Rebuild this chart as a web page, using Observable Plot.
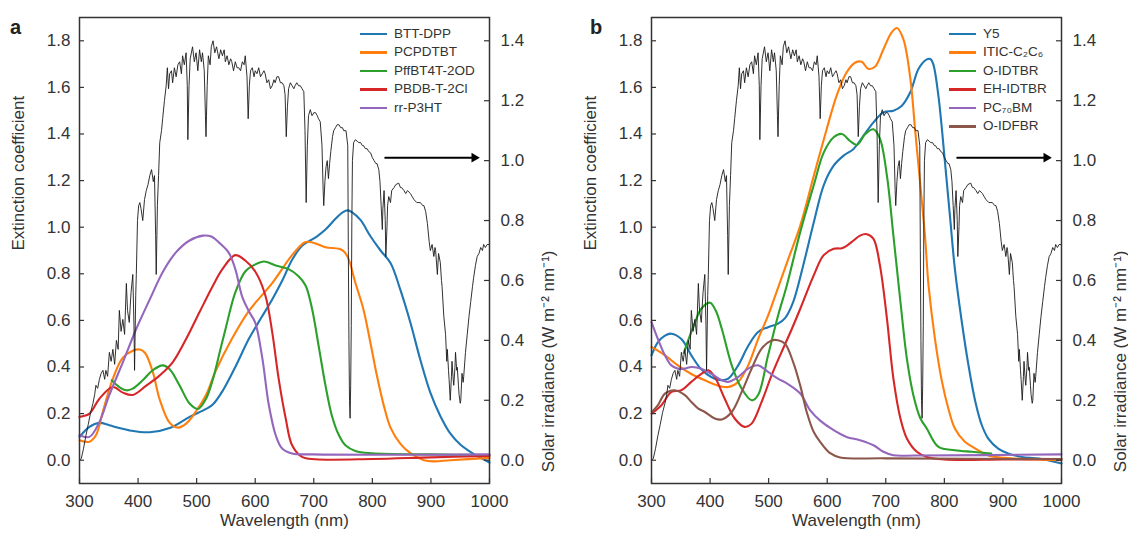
<!DOCTYPE html>
<html><head><meta charset="utf-8">
<script src="https://cdn.jsdelivr.net/npm/d3@7"></script>
<script src="https://cdn.jsdelivr.net/npm/@observablehq/plot@0.6"></script>
<style>
body{margin:0;background:#fff;}
#wrap{position:relative;width:1128px;height:536px;font-family:"Liberation Sans",Arial,Helvetica,sans-serif;color:#333;}
#wrap svg{position:absolute;top:0;}
.lg{position:absolute;font-size:13.5px;line-height:18.5px;height:18.5px;white-space:nowrap;color:#333;}
.sw{position:absolute;height:2.6px;}
.pl{position:absolute;font-weight:bold;font-size:20px;line-height:20px;color:#222;}
</style></head><body><div id="wrap"></div>
<script>
// ---------- tick labels ----------
const xTicks = [300, 400, 500, 600, 700, 800, 900, 1000];
const yTicks = [0, 0.2, 0.4, 0.6, 0.8, 1.0, 1.2, 1.4, 1.6, 1.8];
const irrTicks = [0, 0.2, 0.4, 0.6, 0.8, 1.0, 1.2, 1.4];
const palette = ["#1f77b4", "#ff7f0e", "#2ca02c", "#d62728", "#9467bd", "#8c564b"];

// ---------- panel a: donors (extinction coefficient) ----------
const namesA = ["BTT-DPP", "PCPDTBT", "PffBT4T-2OD", "PBDB-T-2Cl", "rr-P3HT"];
const BTT_DPP = [[300,0.10],[317,0.143],[334,0.16],[351,0.15],[368,0.138],[385,0.128],[420,0.12],[454,0.138],[488,0.186],[516,0.22],[528,0.24],[545,0.30],[566,0.40],[589,0.52],[610,0.61],[629,0.69],[646,0.77],[663,0.86],[680,0.92],[692,0.94],[705,0.96],[720,0.99],[737,1.036],[750,1.065],[758,1.072],[765,1.065],[780,1.03],[797,0.96],[814,0.90],[831,0.846],[848,0.73],[865,0.59],[882,0.43],[899,0.29],[916,0.19],[933,0.115],[951,0.065],[968,0.035],[985,0.01],[1000,-0.01]];
const PCPDTBT = [[300,0.086],[317,0.079],[328,0.107],[340,0.21],[357,0.35],[374,0.44],[391,0.47],[403,0.475],[412,0.46],[425,0.38],[437,0.26],[454,0.16],[468,0.14],[482,0.157],[499,0.21],[516,0.28],[532,0.38],[560,0.52],[589,0.64],[629,0.76],[663,0.88],[686,0.936],[703,0.93],[720,0.914],[743,0.907],[752,0.895],[760,0.86],[770,0.77],[785,0.645],[797,0.50],[808,0.36],[820,0.23],[831,0.14],[848,0.07],[865,0.03],[888,0.0],[905,-0.005],[933,0.0],[1000,0.01]];
const PffBT4T_2OD = [[355,0.343],[368,0.314],[380,0.30],[391,0.307],[408,0.343],[425,0.386],[442,0.407],[454,0.39],[471,0.32],[488,0.243],[502,0.22],[516,0.264],[528,0.35],[540,0.47],[549,0.56],[566,0.72],[583,0.81],[600,0.84],[615,0.853],[635,0.836],[657,0.82],[674,0.79],[686,0.75],[697,0.65],[709,0.48],[720,0.32],[731,0.19],[743,0.107],[754,0.064],[771,0.04],[800,0.03],[900,0.025],[1000,0.022]];
const PBDB_T_2Cl = [[300,0.186],[317,0.20],[334,0.264],[357,0.314],[374,0.29],[391,0.28],[414,0.32],[437,0.364],[459,0.42],[482,0.52],[505,0.636],[528,0.75],[544,0.82],[566,0.88],[583,0.857],[600,0.81],[617,0.71],[629,0.55],[640,0.35],[652,0.18],[663,0.064],[680,0.014],[703,0.004],[800,0.005],[900,0.012],[1000,0.018]];
const rr_P3HT = [[300,0.107],[317,0.10],[334,0.164],[351,0.28],[374,0.42],[397,0.564],[420,0.69],[442,0.807],[465,0.893],[488,0.943],[511,0.964],[525,0.96],[540,0.93],[555,0.89],[566,0.82],[578,0.70],[589,0.64],[600,0.59],[612,0.44],[623,0.24],[635,0.107],[646,0.05],[663,0.029],[700,0.025],[1000,0.025]];

// ---------- panel b: acceptors ----------
const namesB = ["Y5", "ITIC-C\u2082C\u2086", "O-IDTBR", "EH-IDTBR", "PC\u2087\u2080BM", "O-IDFBR"];
const Y5 = [[300,0.45],[311,0.507],[323,0.535],[334,0.543],[351,0.52],[368,0.45],[385,0.39],[402,0.357],[420,0.343],[431,0.35],[448,0.407],[465,0.49],[482,0.55],[499,0.571],[516,0.586],[528,0.61],[542,0.68],[559,0.836],[577,1.02],[594,1.18],[611,1.264],[628,1.307],[645,1.336],[662,1.393],[679,1.45],[696,1.493],[713,1.50],[727,1.52],[742,1.58],[756,1.68],[770,1.72],[776,1.722],[781,1.70],[790,1.56],[801,1.28],[810,1.036],[818,0.82],[830,0.59],[841,0.41],[853,0.25],[864,0.15],[875,0.093],[892,0.05],[909,0.029],[932,0.014],[961,0.007],[1000,-0.014]];
const ITIC_C2C6 = [[300,0.486],[323,0.45],[345,0.407],[368,0.37],[391,0.343],[414,0.32],[431,0.314],[448,0.336],[465,0.407],[482,0.52],[499,0.62],[516,0.74],[533,0.86],[554,1.007],[577,1.22],[599,1.42],[616,1.564],[633,1.664],[648,1.707],[659,1.71],[670,1.68],[682,1.69],[696,1.764],[710,1.836],[719,1.855],[730,1.807],[742,1.636],[750,1.42],[759,1.18],[767,0.96],[773,0.75],[784,0.52],[796,0.336],[807,0.22],[818,0.136],[835,0.079],[853,0.05],[875,0.02],[904,0.01],[1000,0.0]];
const O_IDTBR = [[355,0.46],[374,0.59],[385,0.65],[400,0.676],[410,0.64],[420,0.564],[437,0.407],[454,0.307],[471,0.257],[482,0.28],[499,0.45],[516,0.62],[531,0.75],[554,0.98],[577,1.18],[594,1.32],[611,1.386],[625,1.40],[639,1.37],[651,1.353],[665,1.40],[679,1.42],[690,1.38],[702,1.22],[713,0.964],[725,0.68],[736,0.436],[747,0.28],[759,0.18],[770,0.136],[790,0.057],[818,0.043],[847,0.036],[880,0.029]];
const EH_IDTBR = [[300,0.20],[317,0.236],[334,0.293],[351,0.30],[368,0.336],[385,0.37],[397,0.386],[408,0.357],[425,0.264],[442,0.179],[459,0.143],[471,0.157],[488,0.25],[505,0.364],[522,0.464],[539,0.56],[554,0.65],[577,0.793],[594,0.88],[611,0.907],[625,0.91],[633,0.92],[645,0.943],[656,0.964],[668,0.97],[679,0.95],[690,0.836],[702,0.607],[713,0.35],[725,0.179],[736,0.093],[753,0.036],[770,0.014],[800,0.003],[900,0.003],[1000,0.005]];
const PC70BM = [[300,0.593],[311,0.52],[323,0.45],[334,0.407],[345,0.393],[357,0.393],[368,0.40],[385,0.393],[402,0.371],[420,0.343],[431,0.336],[448,0.357],[465,0.393],[482,0.407],[499,0.379],[516,0.35],[531,0.33],[554,0.286],[571,0.214],[588,0.17],[611,0.129],[633,0.10],[656,0.086],[679,0.064],[696,0.036],[713,0.021],[750,0.02],[1000,0.025]];
const O_IDFBR = [[302,0.21],[311,0.236],[323,0.286],[340,0.30],[357,0.279],[368,0.25],[380,0.221],[391,0.207],[408,0.179],[420,0.175],[437,0.207],[454,0.293],[471,0.393],[488,0.479],[505,0.514],[516,0.515],[528,0.50],[542,0.42],[554,0.32],[565,0.207],[577,0.121],[588,0.079],[605,0.03],[622,0.012],[700,0.008],[1000,0.005]];

// ---------- solar irradiance (W m^-2 nm^-1) ----------
const solar = [[300,0.0],[303,0.005],[307,0.04],[311,0.083],[315,0.12],[319,0.16],[323,0.19],[326,0.22],[328,0.25],[331,0.24],[334,0.27],[337,0.29],[340,0.30],[343,0.27],[345,0.30],[348,0.28],[351,0.36],[354,0.33],[357,0.37],[360,0.32],[363,0.40],[366,0.37],[368,0.50],[371,0.43],[374,0.47],[377,0.42],[380,0.59],[382,0.50],[385,0.46],[388,0.56],[391,0.62],[393,0.45],[394,0.30],[396,0.55],[397,0.62],[399,0.80],[401,0.85],[403,0.86],[405,0.84],[408,0.80],[411,0.87],[414,0.90],[417,0.92],[420,0.95],[423,0.97],[426,0.93],[428,0.95],[430,0.75],[431,0.62],[433,0.85],[435,0.95],[437,1.06],[440,1.10],[442,1.14],[445,1.20],[448,1.25],[450,1.31],[452,1.24],[454,1.29],[457,1.30],[459,1.26],[462,1.31],[465,1.28],[468,1.32],[471,1.33],[474,1.29],[476,1.35],[479,1.32],[482,1.36],[484,1.25],[485,1.07],[487,1.25],[489,1.34],[493,1.38],[496,1.33],[499,1.36],[502,1.30],[505,1.37],[508,1.33],[510,1.36],[513,1.30],[515,1.15],[516,1.08],[518,1.25],[520,1.35],[523,1.32],[525,1.38],[528,1.40],[531,1.36],[534,1.38],[538,1.34],[541,1.37],[544,1.35],[547,1.37],[549,1.33],[552,1.35],[555,1.32],[558,1.34],[560,1.33],[563,1.30],[566,1.33],[569,1.31],[572,1.31],[575,1.30],[578,1.33],[581,1.32],[583,1.35],[586,1.28],[588,1.14],[590,1.25],[592,1.30],[595,1.31],[598,1.28],[600,1.30],[603,1.29],[606,1.31],[609,1.28],[612,1.29],[615,1.30],[617,1.29],[620,1.26],[623,1.27],[626,1.24],[629,1.25],[632,1.27],[634,1.26],[637,1.28],[640,1.28],[643,1.26],[646,1.26],[649,1.25],[651,1.22],[653,1.08],[655,1.18],[657,1.24],[660,1.26],[663,1.25],[666,1.24],[668,1.25],[671,1.26],[674,1.25],[677,1.25],[680,1.24],[683,1.23],[685,1.10],[687,0.86],[689,1.05],[691,1.15],[694,1.17],[697,1.15],[700,1.16],[703,1.16],[706,1.15],[708,1.14],[711,1.13],[714,1.05],[716,0.90],[717,0.85],[719,0.93],[721,0.98],[723,1.00],[725,0.94],[727,0.99],[729,1.03],[732,1.08],[734,1.10],[737,1.11],[740,1.12],[743,1.12],[746,1.11],[749,1.11],[751,1.10],[755,1.10],[758,1.05],[759,0.70],[760,0.40],[761,0.20],[762,0.14],[763,0.25],[764,0.45],[765,0.80],[766,1.00],[768,1.06],[771,1.07],[774,1.065],[777,1.06],[780,1.06],[783,1.05],[785,1.05],[788,1.04],[791,1.04],[794,1.03],[797,1.026],[800,1.01],[803,1.00],[806,0.99],[808,0.99],[811,0.97],[813,0.93],[815,0.85],[817,0.77],[818,0.84],[820,0.90],[822,0.80],[823,0.68],[825,0.78],[826,0.85],[828,0.88],[831,0.86],[833,0.90],[837,0.91],[840,0.92],[845,0.925],[848,0.91],[850,0.91],[854,0.90],[857,0.89],[860,0.90],[865,0.89],[868,0.88],[871,0.87],[876,0.86],[882,0.86],[886,0.85],[888,0.85],[891,0.83],[894,0.79],[897,0.73],[899,0.70],[902,0.72],[905,0.68],[907,0.71],[908,0.70],[911,0.62],[913,0.69],[916,0.66],[918,0.60],[919,0.58],[922,0.48],[925,0.42],[927,0.33],[928,0.37],[930,0.30],[931,0.27],[933,0.20],[935,0.28],[936,0.33],[938,0.27],[939,0.25],[941,0.31],[942,0.36],[944,0.30],[945,0.31],[947,0.25],[948,0.22],[950,0.19],[951,0.20],[953,0.29],[955,0.26],[956,0.28],[959,0.36],[962,0.42],[965,0.48],[968,0.53],[971,0.58],[973,0.61],[976,0.65],[979,0.68],[982,0.69],[985,0.71],[988,0.70],[990,0.72],[993,0.71],[996,0.72],[1000,0.72]];

// arrow pointing at the right axis (wavelength nm, irradiance units)
const arrowSpec = {x1: 822, x2: 972, head: 974, y: 1.01};

// ---------- build ----------
const FONT = '"Liberation Sans", Arial, Helvetica, sans-serif';
const K = 9 / 7; // left-axis units per irradiance unit
const toRows = (names, arrs) => names.flatMap((name, i) => arrs[i].map(([x, y]) => ({name, x, y})));
const rowsA = toRows(namesA, [BTT_DPP, PCPDTBT, PffBT4T_2OD, PBDB_T_2Cl, rr_P3HT]);
const rowsB = toRows(namesB, [Y5, ITIC_C2C6, O_IDTBR, EH_IDTBR, PC70BM, O_IDFBR]);

function makePanel({rows, names, ml, mr}) {
  const W = 564, H = 536, mt = 17, mb = 53;
  const FW = W - ml - mr, FH = H - mt - mb;
  const ink = "#333";
  return Plot.plot({
    width: W, height: H, marginLeft: ml, marginRight: mr, marginTop: mt, marginBottom: mb,
    style: {fontFamily: FONT, fontSize: "17px", color: ink, background: "transparent", overflow: "visible"},
    x: {domain: [300, 1000]},
    y: {domain: [-0.1, 1.9]},
    color: {domain: names, range: palette},
    marks: [
      Plot.line(rows, {x: "x", y: "y", z: "name", stroke: "name", strokeWidth: 2.1, curve: "catmull-rom"}),
      Plot.line(solar, {x: d => d[0], y: d => d[1] * K, stroke: "#1a1a1a", strokeWidth: 0.9}),
      Plot.arrow([arrowSpec], {x1: "x1", x2: "x2", y1: d => d.y * K, y2: d => d.y * K, stroke: "black", strokeWidth: 2, headLength: 0}),
      Plot.dot([arrowSpec], {x: "head", y: d => d.y * K, symbol: "triangle2", r: 4.6, rotate: 90, fill: "black", stroke: "none"}),
      Plot.tickY(yTicks, {y: d => d, insetRight: FW - 5, stroke: ink, strokeWidth: 1.2}),
      Plot.tickY(irrTicks, {y: d => d * K, insetLeft: FW - 5, stroke: ink, strokeWidth: 1.2}),
      Plot.tickX(xTicks, {x: d => d, insetTop: FH - 5, stroke: ink, strokeWidth: 1.2}),
      Plot.axisY(yTicks, {anchor: "left", tickSize: 0, tickPadding: 9, tickFormat: d => d.toFixed(1), label: null}),
      Plot.axisY(irrTicks.map(v => v * K), {anchor: "right", tickSize: 0, tickPadding: 11, tickFormat: d => (d / K).toFixed(1), label: null}),
      Plot.axisX(xTicks, {anchor: "bottom", tickSize: 0, tickPadding: 11, tickFormat: d => String(d), label: null}),
      Plot.frame({stroke: ink, strokeWidth: 1.5}),
      Plot.text(["Extinction coefficient"], {text: d => d, frameAnchor: "left", rotate: -90, dx: -61, fontSize: 17, fill: ink}),
      Plot.text(["Solar irradiance (W m\u207B\u00B2 nm\u207B\u00B9)"], {text: d => d, frameAnchor: "right", rotate: -90, dx: 59, fontSize: 17, fill: ink}),
      Plot.text(["Wavelength (nm)"], {text: d => d, frameAnchor: "bottom", dy: 42, fontSize: 17, fill: ink})
    ]
  });
}

const wrap = document.getElementById("wrap");
const svgA = makePanel({rows: rowsA, names: namesA, ml: 79, mr: 75});
svgA.style.left = "0px";
const svgB = makePanel({rows: rowsB, names: namesB, ml: 87, mr: 67});
svgB.style.left = "564px";
wrap.appendChild(svgA);
wrap.appendChild(svgB);

function legend(names, lineX, textX, top0) {
  names.forEach((n, i) => {
    const cy = top0 + i * 18.5;
    const sw = document.createElement("div");
    sw.className = "sw";
    sw.style.left = lineX + "px"; sw.style.width = "27px";
    sw.style.top = (cy - 1.3) + "px"; sw.style.background = palette[i];
    wrap.appendChild(sw);
    const t = document.createElement("div");
    t.className = "lg";
    t.style.left = textX + "px"; t.style.top = (cy - 9.25) + "px";
    t.textContent = n;
    wrap.appendChild(t);
  });
}
legend(namesA, 360, 394, 34);
legend(namesB, 949, 983, 34);

for (const [txt, x] of [["a", 10], ["b", 590]]) {
  const d = document.createElement("div");
  d.className = "pl"; d.textContent = txt;
  d.style.left = x + "px"; d.style.top = "17px";
  wrap.appendChild(d);
}
</script></body></html>
